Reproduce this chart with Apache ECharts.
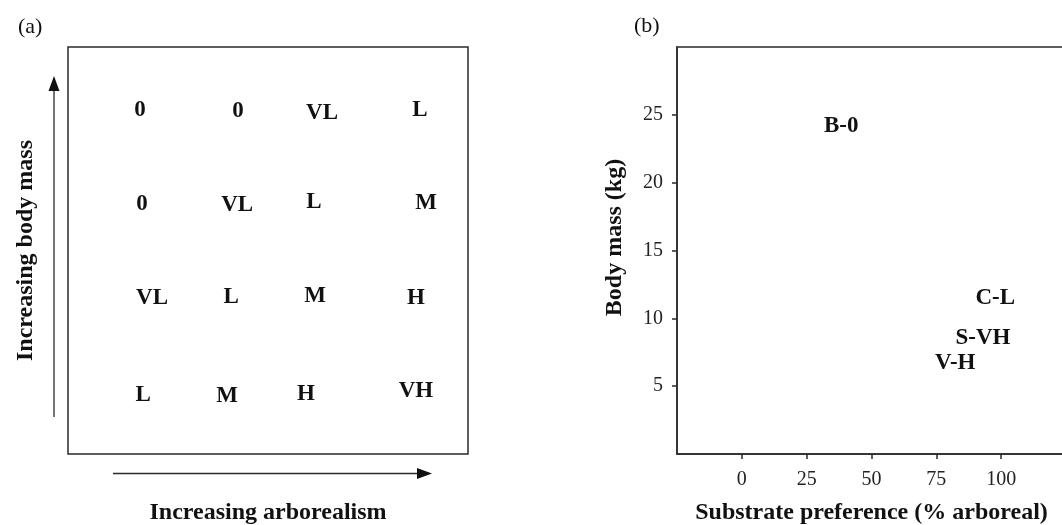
<!DOCTYPE html>
<html>
<head>
<meta charset="utf-8">
<script src="https://cdn.jsdelivr.net/npm/echarts@6/dist/echarts.min.js"></script>
<style>
  html, body { margin: 0; padding: 0; background: #fff; }
  #chart { width: 1062px; height: 525px; }
</style>
</head>
<body>
<div id="chart"></div>
<script>
// Panel (a): conceptual grid of relative scores (position in 0–100 units)
const conceptLabels = ['0', '0', 'VL', 'L', '0', 'VL', 'L', 'M', 'VL', 'L', 'M', 'H', 'L', 'M', 'H', 'VH'];
const conceptArboreal = [18, 42.5, 63.5, 88, 18.5, 42.3, 61.5, 89.5, 21, 40.8, 61.8, 87, 18.8, 39.8, 59.5, 87];
const conceptMass = [85.3, 85, 84.5, 85.3, 62.2, 61.9, 62.7, 62.4, 39.1, 39.3, 39.6, 39.1, 15.2, 15, 15.5, 16.2];

// Panel (b): taxa by substrate preference and body mass
const taxa = ['B-0', 'C-L', 'S-VH', 'V-H'];
const arborealPct = [38.3, 97.7, 93, 82.3];
const bodyMassKg = [24.4, 11.7, 8.8, 6.9];

// Tick labels shown on panel (b)
const xTicks = [0, 25, 50, 75, 100];
const yTicks = [5, 10, 15, 20, 25];

const SERIF = '"Liberation Serif", "Times New Roman", serif';
const INK = '#111';
const LINE = '#2a2a2a';

const conceptData = conceptLabels.map((t, i) => [conceptArboreal[i], conceptMass[i], t]);
const taxaData = taxa.map((t, i) => [arborealPct[i], bodyMassKg[i], t]);

const textLabel = {
  show: true,
  position: 'inside',
  offset: [0, 3],
  formatter: p => p.value[2],
  color: INK,
  textBorderWidth: 0,
  textBorderColor: 'transparent',
  opacity: 1,
  fontFamily: SERIF,
  fontWeight: 'bold',
  fontSize: 23
};

const chart = echarts.init(document.getElementById('chart'), null, { renderer: 'canvas' });

chart.setOption({
  backgroundColor: '#fff',
  animation: false,
  title: [
    { text: '(a)', left: 13, top: 11, textStyle: { fontFamily: SERIF, fontWeight: 'normal', fontSize: 22, color: INK } },
    { text: '(b)', left: 629, top: 10, textStyle: { fontFamily: SERIF, fontWeight: 'normal', fontSize: 22, color: INK } }
  ],
  grid: [
    { left: 68, top: 47, width: 400, height: 407, outerBoundsMode: 'none', containLabel: false,
      show: true, borderColor: LINE, borderWidth: 1.5, backgroundColor: 'transparent' },
    { left: 677, top: 47, width: 389, height: 407, outerBoundsMode: 'none', containLabel: false,
      show: true, borderColor: LINE, borderWidth: 1.5, backgroundColor: 'transparent' }
  ],
  xAxis: [
    {
      gridIndex: 0, type: 'value', min: 0, max: 100,
      axisLine: { show: false }, axisTick: { show: false }, axisLabel: { show: false }, splitLine: { show: false },
      name: 'Increasing arborealism', nameLocation: 'middle', nameGap: 47,
      nameTextStyle: { fontFamily: SERIF, fontWeight: 'bold', fontSize: 24, color: INK }
    },
    {
      gridIndex: 1, type: 'value', min: -25, max: 125, interval: 25,
      axisLine: { show: true, onZero: false, lineStyle: { color: LINE, width: 1.5 } },
      axisTick: { show: true, inside: false, length: 5, customValues: xTicks, lineStyle: { color: LINE, width: 1.5 } },
      axisLabel: { show: true, customValues: xTicks, margin: 16, fontFamily: SERIF, fontSize: 20, color: '#222' },
      splitLine: { show: false },
      name: 'Substrate preference (% arboreal)', nameLocation: 'middle', nameGap: 47,
      nameTextStyle: { fontFamily: SERIF, fontWeight: 'bold', fontSize: 24, color: INK }
    }
  ],
  yAxis: [
    {
      gridIndex: 0, type: 'value', min: 0, max: 100,
      axisLine: { show: false }, axisTick: { show: false }, axisLabel: { show: false }, splitLine: { show: false },
      name: 'Increasing body mass', nameLocation: 'middle', nameGap: 30,
      nameTextStyle: { fontFamily: SERIF, fontWeight: 'bold', fontSize: 24, color: INK }
    },
    {
      gridIndex: 1, type: 'value', min: 0, max: 30, interval: 5,
      axisLine: { show: true, onZero: false, lineStyle: { color: LINE, width: 1.5 } },
      axisTick: { show: true, inside: false, length: 5, customValues: yTicks, lineStyle: { color: LINE, width: 1.5 } },
      axisLabel: { show: true, customValues: yTicks, margin: 14, fontFamily: SERIF, fontSize: 20, color: '#222' },
      splitLine: { show: false },
      name: 'Body mass (kg)', nameLocation: 'middle', nameGap: 50,
      nameTextStyle: { fontFamily: SERIF, fontWeight: 'bold', fontSize: 24, color: INK, padding: [0, 0, 0, 26] }
    }
  ],
  series: [
    {
      type: 'scatter', xAxisIndex: 0, yAxisIndex: 0,
      symbolSize: 1, itemStyle: { color: '#fff', opacity: 1 },
      label: textLabel,
      data: conceptData
    },
    {
      type: 'scatter', xAxisIndex: 1, yAxisIndex: 1,
      symbolSize: 1, itemStyle: { color: '#fff', opacity: 1 },
      label: textLabel,
      data: taxaData
    }
  ],
  // Direction arrows beside panel (a)
  graphic: [
    { type: 'line', shape: { x1: 54, y1: 417, x2: 54, y2: 88 }, style: { stroke: LINE, lineWidth: 1.3 } },
    { type: 'polygon', shape: { points: [[54, 76], [48.5, 91], [59.5, 91]] }, style: { fill: INK } },
    { type: 'line', shape: { x1: 113, y1: 473.5, x2: 420, y2: 473.5 }, style: { stroke: LINE, lineWidth: 1.3 } },
    { type: 'polygon', shape: { points: [[432, 473.5], [417, 468], [417, 479]] }, style: { fill: INK } }
  ]
});
</script>
</body>
</html>
